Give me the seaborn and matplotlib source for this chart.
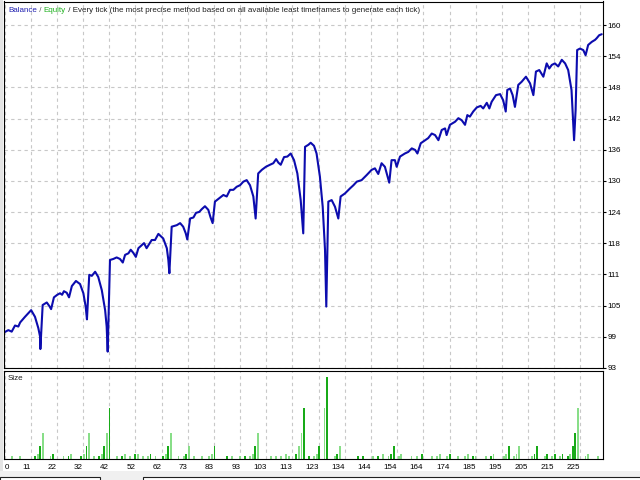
import matplotlib

matplotlib.use("Agg")

import matplotlib.pyplot as plt  # noqa: E402
import numpy as np  # noqa: E402
import seaborn as sns  # noqa: E402
from matplotlib.patches import Rectangle  # noqa: E402

# ---- balance curve (trade number, balance) ----
trade_no = [
    0, 1.5, 2.8, 4.1, 5.4, 6.1, 8.0, 10.4, 11.9, 13.2,
    13.9, 14.0, 14.9, 16.5, 17.5, 18.2, 19.3, 20.6, 21.7, 22.5,
    23.2, 24.3, 25.2, 26.3, 27.9, 29.5, 30.8, 31.7, 32.2, 33.1,
    34.1, 35.4, 36.6, 38.0, 39.3, 39.9, 40.3, 41.2, 42.5, 43.8,
    45.1, 46.2, 47.1, 48.4, 49.3, 50.3, 51.3, 52.3, 53.6, 54.5,
    55.5, 57.5, 58.8, 60.1, 62.0, 63.4, 64.0, 64.4, 65.3, 67.3,
    68.6, 69.8, 70.8, 71.4, 72.5, 73.8, 74.8, 76.1, 77.0, 78.3,
    79.6, 80.5, 81.3, 82.2, 84.2, 85.5, 86.8, 88.1, 89.4, 90.7,
    92.0, 93.3, 94.6, 95.9, 97.2, 98.1, 99.1, 100.5, 102.1, 103.7,
    105.0, 106.1, 107.0, 107.9, 109.2, 110.5, 111.8, 113.1, 114.4, 115.7,
    116.7, 117.4, 118.7, 119.6, 120.9, 121.9, 123.2, 124.3, 125.2, 125.7,
    126.5, 127.8, 129.1, 130.4, 131.3, 133.0, 135.0, 136.3, 137.6, 139.5,
    141.5, 143.4, 144.7, 146.0, 147.3, 148.6, 150.3, 151.2, 152.5, 153.2,
    154.5, 156.4, 157.7, 159.1, 160.4, 161.3, 162.6, 164.3, 165.5, 166.9,
    168.2, 169.5, 170.8, 172.1, 172.7, 174.0, 176.0, 177.3, 178.6, 179.9,
    180.8, 181.8, 183.1, 184.5, 186.0, 187.0, 188.4, 189.4, 190.3, 192.0,
    193.6, 194.8, 195.8, 196.4, 197.5, 198.5, 199.4, 200.7, 202.0, 203.7,
    205.3, 206.6, 207.6, 208.9, 210.5, 211.8, 212.8, 213.8, 215.0, 216.3,
    217.7, 219.0, 220.2, 221.5, 222.5, 223.1, 223.7, 224.8, 226.1, 227.0,
    228.0, 229.4, 230.7, 231.3, 232.3, 233.3,
]
balance = [
    100.0, 100.4, 100.1, 101.3, 101.1, 101.9, 103.0, 104.3, 103.0, 100.8,
    99.1, 96.7, 105.3, 105.8, 105.1, 104.5, 106.8, 107.3, 107.6, 107.3,
    108.0, 107.7, 106.8, 109.0, 110.0, 109.4, 107.6, 105.0, 102.5, 111.2,
    111.0, 111.8, 110.8, 108.2, 104.3, 101.1, 96.2, 114.1, 114.3, 114.6,
    114.3, 113.6, 115.1, 115.4, 116.1, 115.5, 114.7, 116.4, 117.0, 117.4,
    116.4, 118.0, 118.0, 119.2, 118.3, 116.4, 114.1, 111.5, 120.6, 120.9,
    121.3, 120.6, 119.3, 118.1, 122.2, 122.4, 123.3, 123.5, 124.0, 124.6,
    123.9, 122.4, 121.3, 125.5, 126.3, 126.8, 126.5, 127.8, 127.8, 128.4,
    128.7, 129.4, 129.7, 128.7, 126.5, 122.2, 131.0, 131.7, 132.3, 132.7,
    133.0, 133.8, 133.1, 132.7, 134.2, 134.3, 134.9, 133.6, 131.0, 125.8,
    119.3, 136.2, 136.6, 137.0, 136.4, 134.9, 130.4, 124.5, 116.1, 105.0,
    125.5, 125.8, 124.5, 122.2, 126.5, 127.1, 128.1, 128.7, 129.4, 129.7,
    130.7, 131.7, 132.0, 130.9, 133.0, 132.3, 129.2, 133.6, 133.6, 132.3,
    134.3, 134.9, 135.2, 135.9, 135.6, 134.9, 136.9, 137.5, 137.9, 138.8,
    138.5, 137.5, 139.5, 139.8, 138.5, 140.5, 141.1, 141.8, 141.4, 140.5,
    142.4, 142.1, 143.1, 143.9, 144.2, 143.7, 144.8, 143.7, 145.0, 146.3,
    146.5, 145.3, 143.1, 147.3, 147.6, 146.3, 144.0, 148.3, 148.9, 149.9,
    148.6, 146.3, 150.9, 151.2, 149.9, 152.5, 151.5, 152.2, 152.5, 151.9,
    153.2, 152.5, 151.2, 147.3, 137.5, 143.4, 155.1, 155.4, 155.1, 154.1,
    156.1, 156.7, 157.1, 157.4, 158.0, 158.2,
]

# ---- lot size per trade ----
size_trade = [
    3, 6, 12, 13, 14, 15, 18, 19, 23, 25,
    26, 30, 31, 32, 33, 35, 37, 38, 39, 40,
    41, 44, 46, 47, 49, 51, 52, 54, 56, 57,
    59, 62, 63, 64, 65, 68, 70, 71, 72, 74,
    77, 80, 81, 82, 87, 89, 92, 94, 96, 97,
    98, 99, 104, 106, 108, 110, 111, 114, 115, 116,
    117, 119, 121, 122, 123, 125, 126, 129, 130, 131,
    138, 140, 144, 146, 148, 150, 151, 152, 154, 155,
    159, 161, 163, 167, 169, 170, 173, 174, 177, 180,
    181, 183, 184, 188, 190, 191, 195, 196, 197, 199,
    200, 201, 206, 207, 208, 211, 212, 214, 215, 217,
    218, 220, 221, 222, 223, 224, 227, 228, 232,
]
size_lots = [
    .01, .01, .01, .02, .05, .1, .01, .02, .01, .01,
    .02, .01, .02, .05, .1, .01, .01, .02, .05, .1,
    .2, .01, .01, .02, .01, .02, .02, .01, .01, .02,
    .01, .01, .02, .05, .1, .01, .01, .02, .05, .01,
    .01, .01, .02, .05, .01, .01, .01, .01, .01, .02,
    .05, .1, .01, .01, .01, .02, .01, .02, .05, .1,
    .2, .01, .01, .02, .05, .2, .32, .01, .02, .05,
    .01, .01, .01, .01, .02, .01, .02, .05, .01, .02,
    .01, .01, .02, .01, .01, .02, .01, .02, .01, .01,
    .02, .01, .01, .01, .01, .02, .01, .02, .05, .01,
    .02, .05, .01, .02, .05, .01, .02, .01, .02, .01,
    .02, .01, .02, .05, .1, .2, .01, .02, .01,
]
# d = dark green bar, l = light green bar
size_kind = [
    "lldldlldld",
    "ldldlldldl",
    "dldlldllld",
    "ldldllldll",
    "lllddlldll",
    "dlllllldll",
    "ddlldldldl",
    "ddldllddll",
    "lldlllldll",
    "ldlldllldl",
    "lllddldldl",
    "ddlddllll",
]

x_tick_labels = ["0", "11", "22", "32", "42", "52", "62", "73", "83", "93", "103", "113",
                 "123", "134", "144", "154", "164", "174", "185", "195", "205", "215", "225"]
y_tick_labels = ["93", "99", "105", "111", "118", "124", "130", "136", "142", "148", "154", "160"]

BLUE = "#0c0cae"
DARK_GREEN = "#18aa18"
LIGHT_GREEN = "#88de88"
GRID = "#c8c8c8"

sns.set_theme(style="white")
plt.rcParams["font.family"] = ["Liberation Sans", "DejaVu Sans"]
FS = 5.8

W, H = 640, 480


def rect(left, top, right, bottom):
    return [left / W, 1 - bottom / H, (right - left) / W, (bottom - top) / H]


fig = plt.figure(figsize=(6.4, 4.8), dpi=100, facecolor="white")
ax = fig.add_axes(rect(3.5, 1.5, 603, 368))
ax_size = fig.add_axes(rect(3.5, 371, 603, 459))

x_step = 225 / 22
x_ticks = np.arange(len(x_tick_labels)) * x_step
y_min, y_max = 93, 160
y_ticks = np.linspace(y_min, y_max, len(y_tick_labels))
y_top = y_min + (y_max - y_min) * 366.5 / 343.0

# balance line
sns.lineplot(x=trade_no, y=balance, ax=ax, color=BLUE, linewidth=1.5,
             estimator=None, sort=False)
ax.set_xlim(-0.4, 233.8)
ax.set_ylim(y_min, y_top)
ax.set_xticks(x_ticks)
ax.set_yticks(y_ticks)
ax.set_yticklabels(y_tick_labels)
ax.yaxis.tick_right()
ax.tick_params(axis="x", length=0, labelbottom=False)
ax.tick_params(axis="y", length=2, width=0.8, pad=1.5, labelsize=FS, colors="black",
               direction="out")
ax.grid(True, color=GRID, linestyle=(0, (3, 3)), linewidth=0.8)
ax.set_xlabel("")
ax.set_ylabel("")

# title pieces
t1 = ax.text(0.0075, 0.985, "Balance", transform=ax.transAxes, fontsize=FS,
             color="#2020b0", va="top", ha="left")
t2 = ax.annotate(" / ", xy=(1, 0), xycoords=t1, fontsize=FS, color="#606060",
                 va="bottom", ha="left")
t3 = ax.annotate("Equity", xy=(1, 0), xycoords=t2, fontsize=FS, color="#20b020",
                 va="bottom", ha="left")
ax.annotate(" / Every tick (the most precise method based on all available least "
            "timeframes to generate each tick)", xy=(1, 0), xycoords=t3, fontsize=FS,
            color="#202020", va="bottom", ha="left")

# size bars
kinds = "".join(size_kind)
bar_colors = [DARK_GREEN if k == "d" else LIGHT_GREEN for k in kinds]
ax_size.bar(size_trade, size_lots, width=0.7, color=bar_colors, linewidth=0)
ax_size.set_xlim(-0.4, 233.8)
ax_size.set_ylim(0, 0.344)
ax_size.set_xticks(x_ticks)
ax_size.set_xticklabels(x_tick_labels)
ax_size.set_yticks([])
ax_size.tick_params(axis="x", length=2, width=0.8, pad=1.5, labelsize=FS, colors="black",
                    direction="out")
for i, lab in enumerate(ax_size.get_xticklabels()):
    lab.set_ha("left" if i == 0 else "right")
ax_size.grid(True, axis="x", color=GRID, linestyle=(0, (3, 3)), linewidth=0.8)
ax_size.text(0.0075, 0.92, "Size", transform=ax_size.transAxes, fontsize=FS,
             color="#202020", va="center", ha="left")

for a in (ax, ax_size):
    for s in a.spines.values():
        s.set_color("black")
        s.set_linewidth(0.8)
    a.set_facecolor("white")

# window chrome around the chart
fig.patches.append(Rectangle((0, 0), 3 / W, 1, transform=fig.transFigure,
                             facecolor="#e4e4e4", edgecolor="none", zorder=-1))
fig.patches.append(Rectangle((0, 0), 1, 9 / H, transform=fig.transFigure,
                             facecolor="#f0f0f0", edgecolor="none", zorder=-1))
for left, right in ((0, 100), (143, 642)):
    fig.patches.append(Rectangle((left / W, -0.01), (right - left) / W, 0.01 + 3 / H,
                                 transform=fig.transFigure, facecolor="white",
                                 edgecolor="#202020", linewidth=0.8, zorder=0))

fig.savefig("out.png", dpi=100, facecolor=fig.get_facecolor())
